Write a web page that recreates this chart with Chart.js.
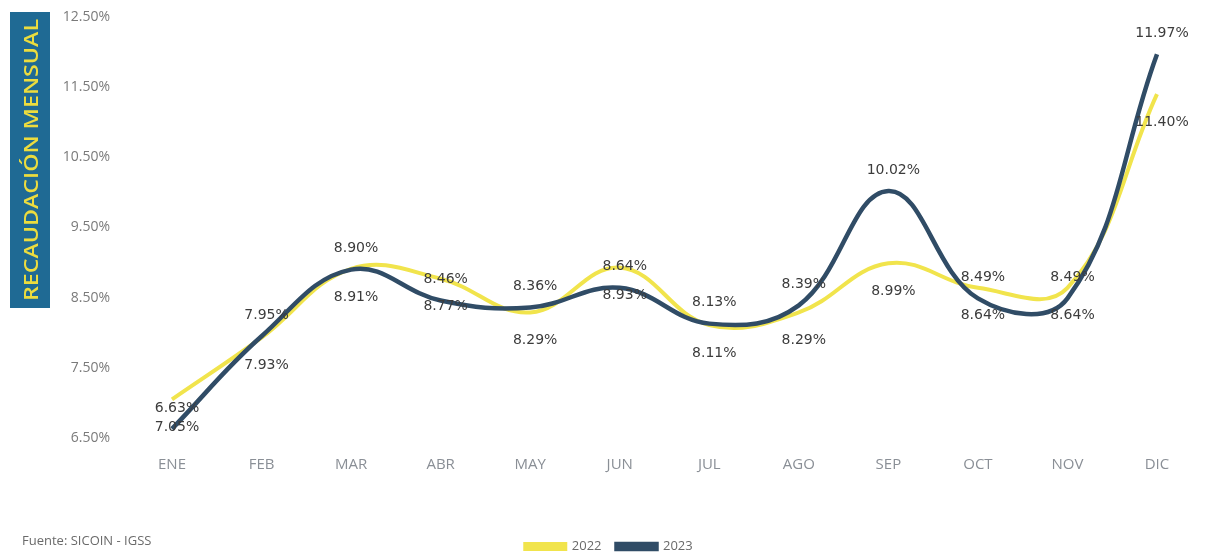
<!DOCTYPE html>
<html>
<head>
<meta charset="utf-8">
<script src="https://cdn.jsdelivr.net/npm/chart.js@4.4.1/dist/chart.umd.min.js"></script>
<style>
  html, body { margin: 0; padding: 0; background: #fff; }
  #wrap { width: 1218px; height: 553px; position: relative; }
</style>
</head>
<body>
<div id="wrap"><canvas id="chart"></canvas></div>
<script>
const months = ['ENE', 'FEB', 'MAR', 'ABR', 'MAY', 'JUN', 'JUL', 'AGO', 'SEP', 'OCT', 'NOV', 'DIC'];
const values2022 = [7.05, 7.93, 8.91, 8.77, 8.29, 8.93, 8.11, 8.29, 8.99, 8.64, 8.64, 11.40];
const values2023 = [6.63, 7.95, 8.90, 8.46, 8.36, 8.64, 8.13, 8.39, 10.02, 8.49, 8.49, 11.97];
const yTicks = [6.5, 7.5, 8.5, 9.5, 10.5, 11.5, 12.5];

// side title + source note
const decorations = {
  id: 'decorations',
  beforeDraw(chart) {
    const { ctx } = chart;
    ctx.save();
    ctx.fillStyle = '#1f6a94';
    ctx.fillRect(10, 12, 40, 296);
    ctx.translate(31, 160);
    ctx.rotate(-Math.PI / 2);
    ctx.fillStyle = '#ecdc3e';
    ctx.font = '600 20px "Open Sans"';
    ctx.textAlign = 'center';
    ctx.textBaseline = 'middle';
    const text = 'RECAUDACIÓN MENSUAL';
    const w = ctx.measureText(text).width;
    ctx.scale(282 / w, 1);
    ctx.fillText(text, 0, 1);
    ctx.restore();

    ctx.save();
    ctx.fillStyle = '#6a6a6a';
    ctx.font = '13px "Open Sans"';
    ctx.textBaseline = 'middle';
    ctx.fillText('Fuente: SICOIN - IGSS', 22, 541);
    ctx.restore();
  }
};

// value labels: 2023 above its point, 2022 below
const valueLabels = {
  id: 'valueLabels',
  afterDatasetsDraw(chart) {
    const { ctx } = chart;
    ctx.save();
    ctx.font = '14px "DejaVu Sans"';
    ctx.fillStyle = '#3c3c3c';
    ctx.textAlign = 'center';
    ctx.textBaseline = 'middle';
    chart.data.datasets.forEach((ds, i) => {
      const meta = chart.getDatasetMeta(i);
      const dy = i === 1 ? -21 : 28;
      meta.data.forEach((pt, j) => {
        ctx.fillText(ds.data[j].toFixed(2) + '%', pt.x + 5, pt.y + dy);
      });
    });
    ctx.restore();
  }
};

new Chart(document.getElementById('chart'), {
  type: 'line',
  data: {
    labels: months,
    datasets: [{
      label: '2022',
      data: values2022,
      borderColor: '#f1e44c',
      backgroundColor: '#f1e44c',
      borderWidth: 4,
      tension: 0.4,
      pointRadius: 0,
      order: 2
    }, {
      label: '2023',
      data: values2023,
      borderColor: '#304c66',
      backgroundColor: '#304c66',
      borderWidth: 4.5,
      tension: 0.4,
      pointRadius: 0,
      order: 1
    }]
  },
  options: {
    responsive: true,
    maintainAspectRatio: false,
    animation: false,
    layout: {
      padding: { top: 17, right: 0, left: 0, bottom: -10 }
    },
    plugins: {
      legend: {
        position: 'bottom',
        labels: {
          boxWidth: 40,
          boxHeight: 5,
          padding: 15,
          color: '#6a6a6a',
          font: { family: 'Open Sans', size: 13 },
          sort: (a, b) => a.datasetIndex - b.datasetIndex
        }
      },
      tooltip: { enabled: false }
    },
    scales: {
      x: {
        grid: { display: false, drawTicks: false },
        border: { display: false },
        ticks: {
          color: '#8a8f96',
          padding: 18,
          font: { family: 'Open Sans', size: 15 }
        },
        afterFit: (scale) => {
          scale.height = 87;
          scale.paddingRight = 61;
        }
      },
      y: {
        min: 6.5,
        max: 12.5,
        afterBuildTicks: (scale) => {
          scale.ticks = yTicks.map(v => ({ value: v }));
        },
        grid: { display: false, drawTicks: false },
        border: { display: false },
        ticks: {
          color: '#7a7a7a',
          padding: 62,
          font: { family: 'Open Sans', size: 14 },
          callback: (v) => v.toFixed(2) + '%'
        },
        afterFit: (scale) => {
          scale.width = 172;
          scale.paddingTop = 0;
          scale.paddingBottom = 0;
        }
      }
    }
  },
  plugins: [decorations, valueLabels]
});
</script>
</body>
</html>
